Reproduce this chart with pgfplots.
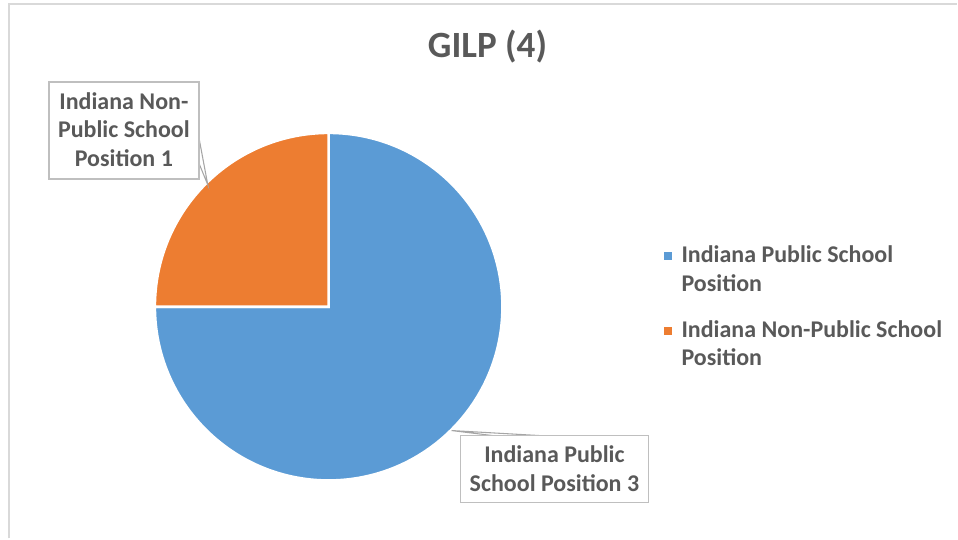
\documentclass[border=0pt]{standalone}
\usepackage{pgfplots}
\pgfplotsset{compat=1.18}
\usepackage{fontspec}
\setmainfont{Carlito}
\definecolor{pblue}{HTML}{5B9BD5}
\definecolor{porange}{HTML}{ED7D31}
\definecolor{txt}{HTML}{595959}
\definecolor{bord}{HTML}{BFBFBF}
\definecolor{lead}{HTML}{A6A6A6}
\definecolor{frm}{HTML}{D9D9D9}
% data: Indiana Public School Position = 3, Indiana Non-Public School Position = 1
\def\valA{3}
\def\valB{1}
\begin{document}
\begin{tikzpicture}
\begin{axis}[scale only axis, width=718.5pt, height=404.25pt,
  xmin=0, xmax=958, ymin=0, ymax=539, hide axis, clip=false]
\pgfmathsetmacro{\total}{\valA+\valB}
\pgfmathsetmacro{\endA}{90-360*\valA/\total}
\path (axis cs:0,0) rectangle (axis cs:958,539);
% chart frame
\draw[frm, line width=1.5pt] (axis cs:9.5,0) -- (axis cs:9.5,534.5) -- (axis cs:958,534.5);
% pie
\filldraw[fill=pblue, draw=white, line width=2pt] (axis cs:329,232) -- ++(90:174) arc[start angle=90, end angle=\endA, radius=174] -- cycle;
\filldraw[fill=porange, draw=white, line width=2pt] (axis cs:329,232) -- ++(\endA:174) arc[start angle=\endA, end angle=-270, radius=174] -- cycle;
% title
\node[anchor=base, text=txt, font=\fontsize{27.8pt}{32pt}\selectfont\bfseries] at (axis cs:488,481) {GILP (4)};
% label 1
\draw[lead, line width=0.8pt] (axis cs:199,402) -- (axis cs:208,354) -- (axis cs:199,376);
\draw[bord, line width=1.2pt, fill=white] (axis cs:49,360) rectangle (axis cs:199,457);
\begin{scope}[every node/.style={anchor=base, text=txt, font=\fontsize{18pt}{21pt}\selectfont\bfseries}]
\node at (axis cs:124,429) {Indiana Non-};
\node at (axis cs:124,401) {Public School};
\node at (axis cs:124,372) {Position 1};
\end{scope}
% label 2
\draw[lead, line width=0.8pt] (axis cs:493,103) -- (axis cs:452,108) -- (axis cs:540,103);
\draw[bord, line width=1.2pt, fill=white] (axis cs:461,36) rectangle (axis cs:649,103);
\begin{scope}[every node/.style={anchor=base, text=txt, font=\fontsize{18pt}{21pt}\selectfont\bfseries}]
\node at (axis cs:555,76) {Indiana Public};
\node at (axis cs:555,47) {School Position 3};
\end{scope}
% legend
\fill[pblue] (axis cs:665,279) rectangle (axis cs:673,287);
\fill[porange] (axis cs:665,204) rectangle (axis cs:673,212);
\begin{scope}[every node/.style={anchor=base west, inner sep=0pt, text=txt, font=\fontsize{18pt}{21pt}\selectfont\bfseries}]
\node at (axis cs:682,276) {Indiana Public School};
\node at (axis cs:682,247) {Position};
\node at (axis cs:682,201) {Indiana Non-Public School};
\node at (axis cs:682,173) {Position};
\end{scope}
\end{axis}
\end{tikzpicture}
\end{document}
